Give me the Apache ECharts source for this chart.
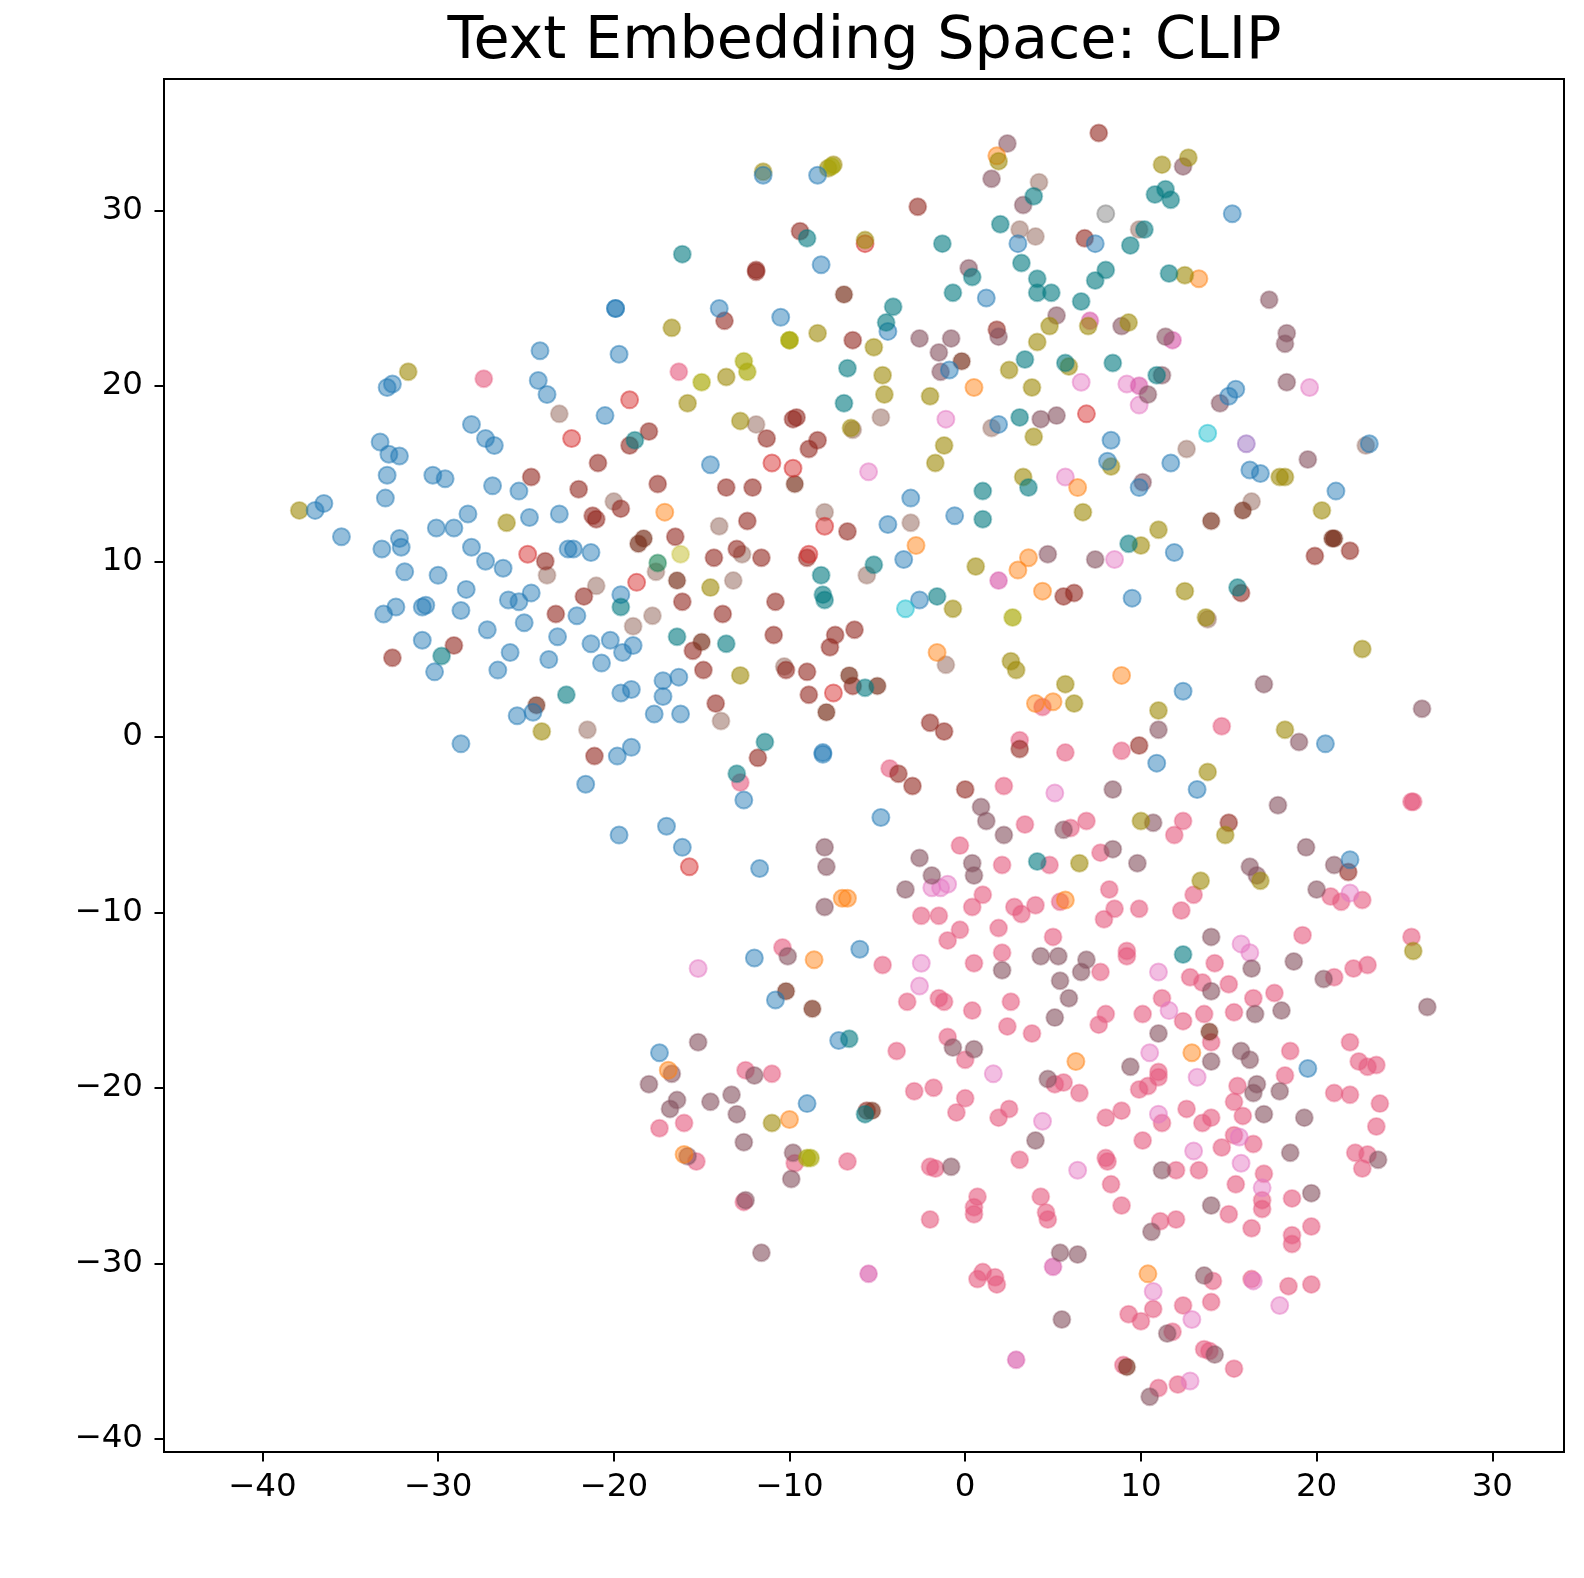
<!DOCTYPE html>
<html><head><meta charset="utf-8">
<script src="https://cdn.jsdelivr.net/npm/echarts@6/dist/echarts.min.js"></script>
<style>html,body{margin:0;padding:0;background:#fff}#c{width:1584px;height:1578px}</style></head>
<body><div id="c"></div>
<script>
const xTicks=[-40,-30,-20,-10,0,10,20,30];
const yTicks=[-40,-30,-20,-10,0,10,20,30];
const blue=[[-11.5,32.0],[-8.4,32.0],[15.2,29.8],[-8.2,26.9],[7.4,28.1],[3.0,28.1],[1.2,25.0],[-19.9,24.4],[-19.9,24.4],[-14.0,24.4],[-10.5,23.9],[-4.4,23.1],[-19.7,21.8],[-24.2,22.0],[-0.9,20.9],[-32.6,20.1],[-32.9,19.9],[-24.3,20.3],[-23.8,19.5],[-20.5,18.3],[-28.1,17.8],[-27.3,17.0],[-26.8,16.6],[-33.3,16.8],[-32.8,16.1],[-32.2,16.0],[1.9,17.8],[8.3,16.9],[15.4,19.8],[15.0,19.4],[23.0,16.7],[-14.5,15.5],[8.1,15.7],[11.7,15.6],[16.2,15.2],[16.8,15.0],[9.9,14.2],[21.1,14.0],[-30.3,14.9],[-29.6,14.7],[-32.9,14.9],[-33.0,13.6],[-26.9,14.3],[-25.4,14.0],[-36.5,13.3],[-37.0,12.9],[-35.5,11.4],[-28.3,12.7],[-24.8,12.5],[-23.1,12.7],[-3.1,13.6],[-4.4,12.1],[-0.6,12.6],[-29.1,11.9],[-30.1,11.9],[-32.2,11.3],[-32.1,10.8],[-33.2,10.7],[-31.9,9.4],[-28.1,10.8],[-27.3,10.0],[-26.3,9.6],[-21.3,10.5],[-22.6,10.7],[-22.3,10.7],[-30.0,9.2],[-28.4,8.4],[-24.7,8.2],[-26.0,7.8],[-25.4,7.7],[-19.6,8.1],[-3.5,10.1],[-2.6,7.8],[9.5,7.9],[11.9,10.5],[-30.7,7.5],[-30.9,7.4],[-32.4,7.4],[-33.1,7.0],[-28.7,7.2],[-25.1,6.5],[-22.1,6.9],[-27.2,6.1],[-23.2,5.7],[-30.9,5.5],[-25.9,4.8],[-23.7,4.4],[-21.3,5.3],[-20.2,5.5],[-19.5,4.8],[-18.9,5.2],[-20.7,4.2],[-26.6,3.8],[-30.2,3.7],[-17.2,3.2],[-16.3,3.4],[-19.0,2.7],[-19.6,2.5],[-17.2,2.3],[12.4,2.6],[-17.7,1.3],[-16.2,1.3],[-25.5,1.2],[-24.6,1.4],[-28.7,-0.4],[-19.0,-0.6],[-19.8,-1.1],[20.5,-0.4],[10.9,-1.5],[-21.6,-2.7],[-12.6,-3.6],[13.2,-3.0],[-4.8,-4.6],[-19.7,-5.6],[-17.0,-5.1],[-16.1,-6.3],[21.9,-7.0],[-11.7,-7.5],[-6.0,-12.1],[-12.0,-12.6],[-10.8,-15.0],[-7.2,-17.3],[-17.4,-18.0],[19.5,-18.9],[-9.0,-20.9],[-8.1,-1.0],[-8.1,-0.9]];
const teal=[[11.4,31.2],[10.8,30.9],[11.7,30.6],[3.9,30.8],[10.2,28.9],[2.0,29.2],[9.4,28.0],[-9.0,28.4],[-16.1,27.5],[-1.3,28.1],[3.2,27.0],[0.4,26.2],[4.1,26.1],[11.6,26.4],[8.0,26.6],[7.4,26.0],[4.1,25.3],[4.9,25.3],[-0.7,25.3],[6.6,24.8],[-4.1,24.5],[-4.5,23.6],[3.4,21.5],[5.7,21.3],[8.4,21.3],[-6.7,21.0],[10.9,20.6],[-6.9,19.0],[3.1,18.2],[-18.8,16.9],[3.6,14.2],[1.0,14.0],[1.0,12.4],[9.3,11.0],[-5.2,9.8],[-8.2,9.2],[-8.1,8.1],[-1.6,8.0],[15.5,8.5],[-19.6,7.4],[-16.4,5.7],[-13.6,5.3],[-29.8,4.6],[-5.7,2.8],[-22.7,2.4],[-11.4,-0.3],[-13.0,-2.1],[4.1,-7.1],[12.4,-12.4],[-6.6,-17.2],[-5.7,-21.5],[-8.0,7.8]];
const cyan=[[-3.4,7.3],[13.8,17.3]];
const olive=[[-11.5,32.2],[-7.8,32.4],[-7.5,32.6],[1.9,32.8],[11.2,32.6],[12.7,33.0],[-5.7,28.3],[12.5,26.3],[-16.7,23.3],[-8.4,23.0],[4.8,23.4],[7.0,23.4],[9.3,23.6],[-5.2,22.2],[4.1,22.5],[-13.6,20.5],[-4.7,20.6],[2.5,20.9],[5.9,21.1],[-15.8,19.0],[-4.6,19.5],[3.8,19.9],[-2.0,19.4],[-12.8,18.0],[-6.5,17.6],[-31.7,20.8],[3.9,17.1],[-1.2,16.6],[-1.7,15.6],[3.3,14.8],[8.3,15.4],[17.9,14.8],[18.2,14.8],[20.3,12.9],[6.7,12.8],[-26.1,12.2],[-37.9,12.9],[11.0,11.8],[10.0,10.9],[0.6,9.7],[-0.7,7.3],[12.5,8.3],[13.7,6.8],[22.6,5.0],[2.6,4.3],[2.9,3.8],[5.7,3.0],[6.2,1.9],[-12.8,3.5],[11.0,1.5],[-14.5,8.5],[-24.1,0.3],[18.2,0.4],[10.0,-4.8],[14.8,-5.6],[6.5,-7.2],[13.4,-8.2],[16.8,-8.2],[25.5,-12.2],[-11.0,-22.0],[13.8,-2.0]];
const lime=[[-10.0,22.6],[-10.0,22.6],[-12.6,21.4],[-12.4,20.8],[-15.0,20.2],[2.7,6.8],[-9.0,-24.0],[-8.8,-24.0],[-7.6,32.5]];
const paleOlive=[[-16.2,10.4]];
const green=[[-17.5,9.9]];
const orange=[[1.8,33.1],[13.3,26.1],[0.5,19.9],[-17.1,12.8],[-2.8,10.9],[3.0,9.5],[3.6,10.2],[6.4,14.2],[4.4,8.3],[-1.6,4.8],[8.9,3.5],[4.0,1.9],[5.0,2.0],[-7.0,-9.2],[-6.7,-9.2],[5.7,-9.3],[-8.6,-12.7],[6.3,-18.5],[12.9,-18.0],[-16.9,-19.0],[-10.0,-21.8],[-16.0,-23.8],[10.4,-30.6]];
const red=[[-19.1,19.2],[-22.4,17.0],[-11.0,15.6],[-9.8,15.3],[-24.9,10.4],[-8.0,12.0],[-7.5,2.5],[-15.7,-7.4],[6.9,18.4],[-18.7,8.8],[-8.9,10.4],[-5.7,28.1]];
const lightPink=[[9.2,20.1],[9.9,18.9],[19.6,19.9],[6.6,20.2],[-1.1,18.1],[-5.5,15.1],[5.7,14.8],[8.5,10.1],[5.1,-3.2],[-1.9,-8.6],[-1.4,-8.6],[-1.0,-8.4],[-15.2,-13.2],[-2.5,-12.9],[-2.6,-14.2],[11.0,-13.4],[15.7,-11.8],[16.2,-12.3],[11.6,-15.6],[21.9,-8.9],[10.5,-18.0],[13.2,-19.4],[1.6,-19.2],[4.4,-21.9],[11.0,-21.5],[15.6,-22.8],[13.0,-23.6],[6.4,-24.7],[15.7,-24.3],[16.9,-25.7],[10.7,-31.6],[12.9,-33.2],[17.9,-32.4],[16.4,-31.0],[12.8,-36.7]];
const purple=[[16.0,16.7]];
const gray=[[8.0,29.8]];
const magenta=[[-5.5,-30.6],[2.9,-35.5],[5.0,-30.2],[11.8,22.6],[7.1,23.7],[9.9,20.0],[1.9,8.9]];
const darkBrown=[[14.0,12.3],[15.8,12.9],[20.9,11.3],[21.0,11.3],[-10.2,-14.5],[13.9,-16.8],[-8.7,-15.5],[-5.3,-21.3],[-16.4,8.9],[-15.0,5.4],[-7.9,1.4],[-9.7,14.4],[-6.6,3.5],[-5.0,2.9],[-24.4,1.8],[-0.2,21.4],[9.2,-35.9],[-6.9,25.2],[-18.6,11.0],[-18.3,11.3]];
const darkRed=[[7.6,34.4],[-2.7,30.2],[-9.4,28.8],[-11.9,26.6],[-11.9,26.5],[6.8,28.4],[-13.7,23.7],[-6.4,22.6],[1.8,23.2],[-18.0,17.4],[-19.1,16.6],[-11.3,17.0],[-9.6,18.2],[-9.8,18.1],[-8.9,16.4],[-8.4,16.9],[-24.7,14.8],[-20.9,15.6],[-22.0,14.1],[-17.5,14.4],[-13.6,14.2],[-12.1,14.2],[-19.6,13.0],[-21.2,12.6],[-21.0,12.4],[-12.4,12.3],[-16.5,11.4],[-6.7,11.7],[-14.3,10.2],[-13.0,10.7],[-11.6,10.2],[-9.0,10.2],[-23.9,10.0],[-21.7,8.0],[-16.1,7.7],[-10.8,7.7],[-23.3,7.0],[-13.8,7.0],[-10.9,5.8],[-7.4,5.8],[-6.3,6.1],[-7.7,5.1],[-15.5,4.9],[-29.1,5.2],[-32.6,4.5],[-14.9,3.8],[-9.0,3.7],[-10.2,3.8],[-6.4,2.9],[-8.9,2.4],[-14.2,1.9],[-2.0,0.8],[-1.2,0.3],[3.1,-0.7],[9.9,-0.5],[-21.1,-1.1],[-11.8,-1.2],[-3.0,-2.8],[-3.8,-2.1],[0,-3.0],[19.9,10.3],[21.9,10.6],[5.6,8.0],[6.2,8.2],[15.7,8.2],[21.8,-7.7],[15.0,-4.9],[-5.6,-21.3]];
const mauve=[[2.4,33.8],[1.5,31.8],[3.3,30.3],[12.4,32.5],[0.2,26.7],[17.3,24.9],[18.3,23.0],[18.2,22.4],[11.4,22.8],[-2.6,22.7],[-0.8,22.7],[-1.5,21.9],[1.9,22.8],[-1.4,20.8],[5.2,24.0],[8.9,23.4],[11.2,20.6],[10.4,19.5],[18.3,20.2],[14.5,19.0],[4.3,18.1],[5.2,18.3],[19.5,15.8],[10.1,14.5],[7.4,10.1],[4.7,10.4],[17.0,3.0],[26.0,1.6],[19.0,-0.3],[11.0,0.4],[8.4,-3.0],[17.8,-3.9],[10.7,-4.9],[5.6,-5.3],[2.2,-5.6],[0.9,-4.0],[1.2,-4.8],[8.4,-6.4],[9.8,-7.2],[-8.0,-6.3],[-7.9,-7.4],[-2.6,-6.9],[-1.9,-7.9],[0.4,-7.2],[0.5,-7.9],[-3.4,-8.7],[-8.0,-9.7],[16.2,-7.4],[16.6,-7.9],[21.0,-7.3],[20.0,-8.7],[19.4,-6.3],[14.0,-11.4],[4.3,-12.5],[5.3,-12.5],[6.9,-12.7],[6.6,-13.4],[2.1,-13.3],[5.4,-13.9],[5.9,-14.9],[14.0,-14.5],[16.3,-13.2],[18.7,-12.8],[20.4,-13.8],[16.5,-15.8],[18.0,-15.6],[-10.1,-12.5],[5.1,-16.0],[11.0,-16.9],[14.0,-18.5],[15.7,-17.9],[16.2,-18.4],[-0.7,-17.7],[0.5,-17.8],[9.4,-18.8],[4.7,-19.5],[-15.2,-17.4],[-18.0,-19.8],[-16.7,-19.2],[16.4,-20.3],[16.6,-19.8],[17.9,-20.2],[-16.4,-20.7],[-16.8,-21.2],[-14.5,-20.8],[-13.3,-20.4],[-12.0,-19.3],[-13.0,-21.5],[17.0,-21.5],[19.3,-21.7],[18.5,-23.7],[-12.6,-23.1],[-9.8,-23.7],[-15.8,-23.9],[-9.9,-25.2],[4.0,-23.0],[11.2,-24.7],[-0.8,-24.5],[23.5,-24.1],[19.7,-26.0],[-12.5,-26.4],[14.0,-26.7],[10.6,-28.2],[-11.6,-29.4],[5.4,-29.4],[6.4,-29.5],[13.6,-30.7],[5.5,-33.2],[11.5,-34.0],[14.2,-35.2],[10.5,-37.6],[26.3,-15.4]];
const rose=[[-27.4,20.4],[-16.3,20.8],[14.6,0.6],[4.4,1.7],[3.1,-0.2],[5.7,-0.9],[8.9,-0.8],[2.2,-2.8],[-4.3,-1.8],[12.4,-4.8],[11.9,-5.6],[6.9,-4.8],[3.4,-5.0],[6.0,-5.2],[-0.3,-6.2],[7.7,-6.6],[4.8,-7.3],[2.1,-7.3],[8.2,-8.7],[13.0,-9.0],[1.0,-9.0],[2.8,-9.7],[0.4,-9.7],[3.2,-10.1],[4.0,-9.6],[5.4,-9.4],[8.5,-9.8],[9.9,-9.8],[12.3,-9.9],[7.9,-10.4],[-2.5,-10.2],[-1.5,-10.2],[-0.3,-11.0],[-1.0,-11.6],[1.9,-10.9],[5.0,-11.4],[2.1,-12.3],[0.5,-12.9],[9.2,-12.2],[9.2,-12.5],[-4.7,-13.0],[7.7,-13.4],[12.8,-13.7],[13.5,-14.0],[14.2,-12.9],[15.0,-14.1],[17.6,-14.6],[21.0,-13.7],[22.1,-13.2],[22.9,-13.0],[25.4,-11.4],[19.2,-11.3],[20.8,-9.1],[21.4,-9.4],[22.6,-9.3],[-3.3,-15.1],[-1.5,-14.9],[-1.2,-15.1],[0.4,-15.6],[2.6,-15.1],[8.0,-15.8],[7.6,-16.4],[2.4,-16.5],[3.8,-16.9],[10.1,-15.8],[11.2,-14.9],[12.4,-16.2],[13.6,-15.8],[15.3,-15.7],[16.4,-14.9],[-1.0,-17.1],[-3.9,-17.9],[14.0,-17.4],[18.5,-17.9],[21.9,-17.4],[22.4,-18.5],[22.9,-18.8],[23.4,-18.7],[0,-18.4],[5.1,-19.8],[5.6,-19.7],[6.5,-20.3],[10.4,-19.9],[11.0,-19.1],[11.0,-19.4],[9.9,-20.1],[18.2,-19.3],[21.0,-20.3],[21.9,-20.4],[23.6,-20.9],[-2.9,-20.2],[-1.8,-20.0],[-12.5,-19.0],[-11.0,-19.2],[0,-20.6],[-0.5,-21.4],[2.5,-21.2],[1.9,-21.7],[8.9,-21.3],[8.0,-21.7],[12.6,-21.2],[13.5,-22.0],[14.0,-21.7],[15.3,-20.8],[15.5,-19.9],[15.8,-21.6],[11.2,-22.0],[-17.4,-22.3],[-16.0,-22.0],[23.4,-22.2],[15.3,-22.7],[10.1,-23.0],[16.4,-23.2],[14.6,-23.4],[22.2,-23.7],[22.9,-23.8],[22.6,-24.6],[8.0,-24.0],[8.1,-24.2],[3.1,-24.1],[-6.7,-24.2],[-9.7,-24.3],[-15.3,-24.2],[-2.0,-24.5],[-1.7,-24.6],[12.0,-24.7],[13.3,-24.7],[17.0,-24.9],[15.4,-25.5],[8.3,-25.5],[0.7,-26.2],[4.3,-26.2],[16.9,-26.4],[16.9,-26.9],[18.6,-26.3],[8.9,-26.7],[-12.6,-26.5],[0.5,-26.8],[0.5,-27.2],[4.6,-27.1],[4.7,-27.5],[-2.0,-27.5],[11.1,-27.6],[12.0,-27.5],[15.0,-27.2],[16.3,-28.0],[18.6,-28.4],[18.6,-28.9],[19.7,-27.9],[0.7,-30.9],[1.0,-30.5],[1.7,-30.8],[1.8,-31.2],[14.1,-31.0],[16.3,-30.9],[18.4,-31.3],[19.7,-31.2],[14.0,-32.2],[12.4,-32.4],[10.7,-32.6],[9.3,-32.9],[10.0,-33.3],[11.8,-33.9],[13.6,-34.9],[13.9,-35.0],[15.3,-36.0],[9.0,-35.8],[11.0,-37.1],[12.1,-36.9],[25.4,-3.7],[25.5,-3.7],[-12.8,-2.6],[-10.4,-12.0]];
const rosyBrown=[[4.2,31.6],[3.1,28.9],[4.0,28.5],[9.9,28.9],[-11.9,17.8],[-23.1,18.4],[-20.0,13.4],[-14.0,12.0],[-3.1,12.2],[-12.7,10.4],[-13.2,8.9],[-23.8,9.2],[-5.6,9.2],[-21.0,8.6],[-17.8,6.9],[-18.9,6.3],[-17.6,9.4],[-10.3,4.0],[-1.1,4.1],[-13.9,0.9],[-21.5,0.4],[16.3,13.4],[12.6,16.4],[1.5,17.6],[22.8,16.6],[13.8,6.7],[-8.0,12.8],[-6.4,17.5],[-4.8,18.2]];
const palette={blue:['31,119,180',.6,.6],orange:['255,127,14',.6,.6],red:['214,39,40',.6,.6],lightPink:['227,119,194',.6,.6],gray:['127,127,127',.6,.6],cyan:['23,190,207',.6,.6],purple:['148,103,189',.6,.6],green:['20,130,80',.75,.45],paleOlive:['200,195,60',.7,.45],lime:['170,170,10',.85,.45],magenta:['214,80,165',.75,.45],rose:['229,88,125',.75,.45],mauve:['131,80,93',.75,.45],darkRed:['145,39,30',.75,.45],darkBrown:['120,50,30',.85,.3],olive:['156,137,5',.75,.45],teal:['0,120,127',.75,.45],rosyBrown:['160,121,112',.75,.45]};
const groups=[['rosyBrown',rosyBrown],['rose',rose],['lightPink',lightPink],['magenta',magenta],['purple',purple],['gray',gray],['darkRed',darkRed],['darkBrown',darkBrown],['mauve',mauve],['red',red],['orange',orange],['olive',olive],['lime',lime],['paleOlive',paleOlive],['green',green],['blue',blue],['teal',teal],['cyan',cyan]];
const chart=echarts.init(document.getElementById('c'),null,{renderer:'canvas'});
const font='"DejaVu Sans"';
const fmt=v=>String(v).replace('-','\u2212');
chart.setOption({
  animation:false,backgroundColor:'#fff',
  title:{text:'Text Embedding Space: CLIP',left:859.5,top:8,textAlign:'center',textStyle:{fontFamily:font,fontSize:58.8,fontWeight:'normal',color:'#000'}},
  grid:{left:164,right:20,top:79,bottom:126,show:true,borderColor:'#000',borderWidth:2,backgroundColor:'#fff'},
  xAxis:{type:'value',min:-45.6,max:34.08,splitLine:{show:false},axisLine:{show:false,onZero:false},
    axisTick:{show:true,length:9.5,inside:false,customValues:xTicks,lineStyle:{color:'#000',width:2}},
    axisLabel:{customValues:xTicks,formatter:fmt,color:'#000',fontFamily:font,fontSize:32.5,margin:19.5}},
  yAxis:{type:'value',min:-40.75,max:37.48,splitLine:{show:false},axisLine:{show:false,onZero:false},
    axisTick:{show:true,length:9.5,inside:false,customValues:yTicks,lineStyle:{color:'#000',width:2}},
    axisLabel:{customValues:yTicks,formatter:fmt,color:'#000',fontFamily:font,fontSize:32.5,margin:21,padding:[6,0,0,0]}},
  series:groups.map(([n,d])=>({type:'scatter',name:n,data:d,symbol:'circle',symbolSize:17,silent:true,
    itemStyle:{color:'rgba('+palette[n][0]+','+palette[n][1]+')',borderColor:'rgba('+palette[n][0]+','+palette[n][2]+')',borderWidth:2}}))
});
</script></body></html>
